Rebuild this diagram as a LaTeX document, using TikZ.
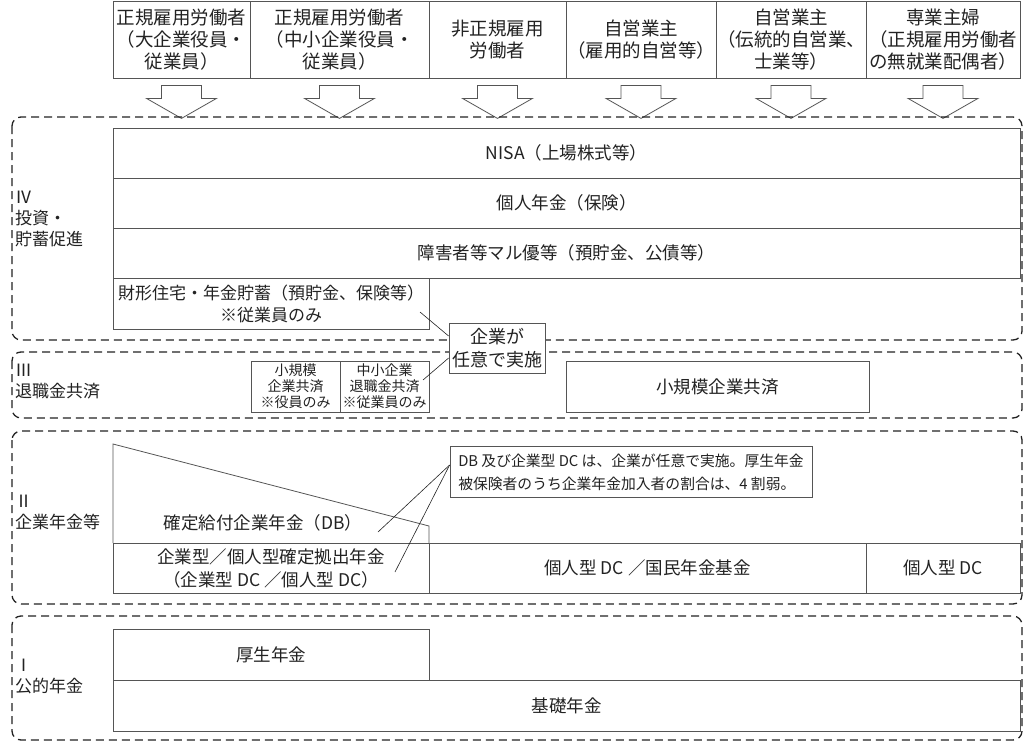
\documentclass[tikz,border=0pt]{standalone}
\usepackage{fontspec}
\setmainfont{Noto Sans CJK JP}
\usetikzlibrary{calc}

\definecolor{lin}{HTML}{555555}
\definecolor{ink}{HTML}{222222}

\begin{document}
\begin{tikzpicture}[x=1pt,y=-1pt,
    ln/.style={draw=lin,line width=.8pt},
    box/.style={ln,inner sep=0pt,align=center,text=ink,font=\fontsize{17.5}{23}\selectfont},
    hd/.style={box,minimum height=77pt,font=\fontsize{18.5}{22}\selectfont},
    small/.style={box,font=\fontsize{14}{16}\selectfont},
    note/.style={box,fill=white,inner sep=3pt},
    grp/.style={draw=ink,line width=1.3pt,dash pattern=on 8pt off 5pt,rounded corners=9pt},
    lbl/.style={anchor=west,align=left,inner sep=0pt,text=ink,font=\fontsize{17}{21}\selectfont},
    wire/.style={draw=ink,line width=.6pt}]
  \useasboundingbox (0,0) rectangle (1027,747);

  % kinds of workers, with an arrow down under each
  \foreach \i/\xa/\xb/\txt in {1/113/250/{正規雇用労働者\\（大企業役員・\\従業員）},
      2/250/429/{正規雇用労働者\\（中小企業役員・\\従業員）},
      3/429/566/{非正規雇用\\労働者},
      4/566/716/{自営業主\\（雇用的自営等）},
      5/716/866/{自営業主\\（伝統的自営業、\\士業等）},
      6/866/1020/{専業主婦\\（正規雇用労働者\\の無就業配偶者）}} {
    \node[hd,minimum width={(\xb-\xa)*1pt}] (h\i) at ({(\xa+\xb)/2},39.5) {\txt};
    \draw[ln,fill=white] (h\i.south) ++(-20,7) -- ++(0,13) -- ++(-15,0) -- ++(35,20)
      -- ++(35,-20) -- ++(-15,0) -- ++(0,-13) -- cycle;
  }

  % IV
  \draw[grp] (12,117) rectangle (1022,340);
  \node[lbl] (l4) at (15,219) {Ⅳ\\投資・\\貯蓄促進};
  \node[box,minimum width=907pt,minimum height=50pt] (nisa) at (566.5,153) {NISA（上場株式等）};
  \node[box,minimum width=907pt,minimum height=50pt] (hoken) at (566.5,203) {個人年金（保険）};
  \node[box,minimum width=907pt,minimum height=50pt] (maru) at (566.5,253) {障害者等マル優等（預貯金、公債等）};
  \node[box,minimum width=316pt,minimum height=51pt,font=\fontsize{17}{22}\selectfont] (zaikei)
    at (271,303.5) {財形住宅・年金貯蓄（預貯金、保険等）\\※従業員のみ};

  % III
  \draw[grp] (12,352) rectangle (1022,418);
  \node[lbl] (l3) at (15,382) {Ⅲ\\退職金共済};
  \node[small,minimum width=89pt,minimum height=51pt] (shokibo) at (295.5,386.5) {小規模\\企業共済\\※役員のみ};
  \node[small,minimum width=89pt,minimum height=51pt] (chusho) at (384.5,386.5) {中小企業\\退職金共済\\※従業員のみ};
  \node[box,minimum width=303pt,minimum height=51pt] (kyosai) at (717.5,386.5) {小規模企業共済};
  \node[note,minimum width=94pt,minimum height=50pt,font=\fontsize{18}{23}\selectfont] (nini)
    at (497,348) {企業が\\任意で実施};
  \coordinate (zk) at (420,312);
  \coordinate (cs) at (423,380);
  \draw[wire] (zk) -- ([yshift=12pt]nini.west);
  \draw[wire] (cs) -- ([yshift=-10pt]nini.west);

  % II
  \draw[grp] (12,431) rectangle (1022,604);
  \node[lbl] (l2) at (15,512) {Ⅱ\\企業年金等};
  \draw[ln] (113,543) -- (113,444) -- (429,526) -- (429,543);
  \node[text=ink,font=\fontsize{17.5}{22}\selectfont] (db) at (263,523) {確定給付企業年金（DB）};
  \node[box,minimum width=316pt,minimum height=50pt] (dc) at (271,568) {企業型／個人型確定拠出年金\\（企業型 DC ／個人型 DC）};
  \node[box,minimum width=437pt,minimum height=50pt] (kokumin) at (647.5,568) {個人型 DC ／国民年金基金};
  \node[box,minimum width=154pt,minimum height=50pt] (idc) at (943,568) {個人型 DC};
  \node[note,minimum width=362pt,minimum height=51pt,align=left,
    font=\fontsize{14.8}{23}\selectfont] (dbnote) at (631,472)
    {DB 及び企業型 DC は、企業が任意で実施。厚生年金\\被保険者のうち企業年金加入者の割合は、4 割弱。};
  \coordinate (dbp) at (378,532);
  \coordinate (dcp) at (395,572);
  \draw[wire] (dbp) -- ([yshift=7pt]dbnote.west);
  \draw[wire] (dcp) -- ([yshift=7pt]dbnote.west);

  % I
  \draw[grp] (12,616) rectangle (1022,740);
  \node[lbl] (l1) at (15,676) {Ⅰ\\公的年金};
  \node[box,minimum width=316pt,minimum height=51pt] (kosei) at (271,654.5) {厚生年金};
  \node[box,minimum width=907pt,minimum height=51pt] (kiso) at (566.5,705.5) {基礎年金};
\end{tikzpicture}
\end{document}
